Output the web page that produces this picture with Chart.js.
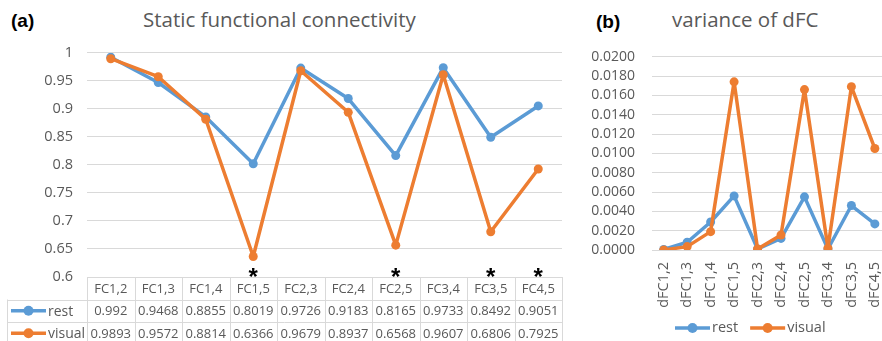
<!DOCTYPE html>
<html>
<head>
<meta charset="utf-8">
<script src="https://cdn.jsdelivr.net/npm/chart.js@4/dist/chart.umd.min.js"></script>
<style>
  html, body { margin: 0; padding: 0; width: 882px; height: 341px; overflow: hidden; background: #fff; }
  .wrap { position: absolute; }
  .tag { position: absolute; font-family: "Liberation Sans", Arial, sans-serif; font-weight: bold; font-size: 19px; color: #000; }
  .title { position: absolute; font-family: "Open Sans", sans-serif; font-size: 20.5px; color: #595959; white-space: nowrap; }
</style>
</head>
<body>
<div class="tag" style="left:11px; top:10px;">(a)</div>
<div class="title" style="left:143px; top:5px;">Static functional connectivity</div>
<div class="tag" style="left:596px; top:11px;">(b)</div>
<div class="title" style="left:672px; top:5px;">variance of dFC</div>

<div class="wrap" style="left:0; top:0; width:575px; height:341px;"><canvas id="staticFC"></canvas></div>
<div class="wrap" style="left:575px; top:0; width:330px; height:341px;"><canvas id="dfcVar"></canvas></div>

<script>
// Static functional connectivity (panel a)
const fcPairs = ['FC1,2', 'FC1,3', 'FC1,4', 'FC1,5', 'FC2,3', 'FC2,4', 'FC2,5', 'FC3,4', 'FC3,5', 'FC4,5'];
const restFC = [0.992, 0.9468, 0.8855, 0.8019, 0.9726, 0.9183, 0.8165, 0.9733, 0.8492, 0.9051];
const visualFC = [0.9893, 0.9572, 0.8814, 0.6366, 0.9679, 0.8937, 0.6568, 0.9607, 0.6806, 0.7925];
const significantPairs = ['FC1,5', 'FC2,5', 'FC3,5', 'FC4,5'];

// Variance of dynamic FC (panel b)
const dfcPairs = ['dFC1,2', 'dFC1,3', 'dFC1,4', 'dFC1,5', 'dFC2,3', 'dFC2,4', 'dFC2,5', 'dFC3,4', 'dFC3,5', 'dFC4,5'];
const restVar = [0.00005, 0.0008, 0.0029, 0.0056, 0.0001, 0.0012, 0.0055, 0.0001, 0.0046, 0.0027];
const visualVar = [0.0000, 0.00035, 0.0019, 0.0174, 0.0001, 0.00155, 0.0166, 0.0002, 0.0169, 0.0105];

const BLUE = '#5B9BD5';
const ORANGE = '#ED7D31';
const GRID = '#d9d9d9';
const TEXT = '#595959';
const FONT = '"Open Sans", sans-serif';

function series(label, data, color, order) {
  return {
    label, data, order,
    borderColor: color, backgroundColor: color,
    borderWidth: 3.5, borderJoinStyle: 'round', borderCapStyle: 'round',
    pointRadius: 4.5, pointHoverRadius: 4.5,
    pointBorderWidth: 0, pointBackgroundColor: color, tension: 0
  };
}

function drawKey(ctx, x, y, color) {
  ctx.save();
  ctx.strokeStyle = color;
  ctx.lineWidth = 3.5;
  ctx.beginPath();
  ctx.moveTo(x, y);
  ctx.lineTo(x + 35, y);
  ctx.stroke();
  ctx.fillStyle = color;
  ctx.beginPath();
  ctx.arc(x + 17.5, y, 5, 0, Math.PI * 2);
  ctx.fill();
  ctx.restore();
}

// Data table under the x axis of panel (a), with significance stars
const dataTable = {
  id: 'dataTable',
  afterDraw(chart) {
    const { ctx, chartArea, scales: { x } } = chart;
    const labels = chart.data.labels;
    const step = x.getPixelForValue(1) - x.getPixelForValue(0);
    const top = chartArea.bottom;
    const rowH = 22.5;
    const tableLeft = 7;
    const sets = chart.data.datasets.slice().sort((a, b) => b.order - a.order);

    ctx.save();
    ctx.strokeStyle = GRID;
    ctx.lineWidth = 1;
    ctx.beginPath();
    ctx.moveTo(chartArea.left, top + 0.5);
    ctx.lineTo(chartArea.right, top + 0.5);
    const rows = sets.length;
    for (let r = 1; r <= rows + 1; r++) {
      const yy = Math.round(top + r * rowH) + 0.5;
      ctx.moveTo(tableLeft, yy);
      ctx.lineTo(chartArea.right, yy);
    }
    ctx.moveTo(tableLeft + 0.5, top + rowH);
    ctx.lineTo(tableLeft + 0.5, top + (rows + 1) * rowH);
    for (let i = 0; i <= labels.length; i++) {
      const xx = Math.round(x.getPixelForValue(i) - step / 2) + 0.5;
      ctx.moveTo(xx, top);
      ctx.lineTo(xx, top + (rows + 1) * rowH);
    }
    ctx.stroke();

    ctx.fillStyle = TEXT;
    ctx.font = '13px ' + FONT;
    ctx.textAlign = 'center';
    ctx.textBaseline = 'middle';
    labels.forEach((lab, i) => {
      ctx.fillText(lab, x.getPixelForValue(i), top + rowH / 2 + 1);
    });
    sets.forEach((ds, r) => {
      const cy = top + (r + 1.5) * rowH + 1;
      ds.data.forEach((v, i) => {
        ctx.fillStyle = TEXT;
        ctx.textAlign = 'center';
        ctx.fillText(String(v), x.getPixelForValue(i), cy);
      });
      drawKey(ctx, tableLeft + 4, cy - 1, ds.borderColor);
      ctx.fillStyle = TEXT;
      ctx.textAlign = 'left';
      ctx.font = '14px ' + FONT;
      ctx.fillText(ds.label, tableLeft + 41, cy);
      ctx.font = '13px ' + FONT;
    });

    // significance markers
    ctx.fillStyle = '#000';
    ctx.font = 'bold 24px "Liberation Sans", Arial, sans-serif';
    ctx.textAlign = 'center';
    ctx.textBaseline = 'alphabetic';
    significantPairs.forEach(p => {
      const i = labels.indexOf(p);
      if (i >= 0) ctx.fillText('*', x.getPixelForValue(i), top + 8);
    });
    ctx.restore();
  }
};

// Line-and-marker legend under panel (b)
const keyLegend = {
  id: 'keyLegend',
  afterDraw(chart) {
    const { ctx } = chart;
    const sets = chart.data.datasets.slice().sort((a, b) => b.order - a.order);
    ctx.save();
    ctx.font = '14.5px ' + FONT;
    ctx.textBaseline = 'middle';
    ctx.fillStyle = TEXT;
    let xx = 100;
    const y = 328;
    sets.forEach(ds => {
      drawKey(ctx, xx, y, ds.borderColor);
      ctx.fillStyle = TEXT;
      ctx.fillText(ds.label, xx + 37, y);
      xx += 37 + ctx.measureText(ds.label).width + 12;
    });
    ctx.restore();
  }
};

new Chart(document.getElementById('staticFC'), {
  type: 'line',
  data: {
    labels: fcPairs,
    datasets: [series('rest', restFC, BLUE, 1), series('visual', visualFC, ORANGE, 0)]
  },
  options: {
    responsive: true, maintainAspectRatio: false, animation: false,
    layout: { padding: { top: 52.7, bottom: 64, left: 0, right: 13 } },
    plugins: { legend: { display: false }, tooltip: { enabled: false } },
    scales: {
      x: { display: false, offset: true },
      y: {
        min: 0.6, max: 1,
        afterFit(s) { s.width = 87; },
        border: { display: false },
        grid: { color: GRID, lineWidth: 1, drawTicks: false },
        ticks: {
          stepSize: 0.05, padding: 14, color: TEXT, autoSkip: false,
          font: { family: FONT, size: 14.5 },
          callback: v => String(parseFloat(v.toFixed(2)))
        }
      }
    }
  },
  plugins: [dataTable]
});

new Chart(document.getElementById('dfcVar'), {
  type: 'line',
  data: {
    labels: dfcPairs,
    datasets: [series('rest', restVar, BLUE, 1), series('visual', visualVar, ORANGE, 0)]
  },
  options: {
    responsive: true, maintainAspectRatio: false, animation: false,
    layout: { padding: { top: 56.7, bottom: 0, left: 0, right: 15 } },
    plugins: { legend: { display: false }, tooltip: { enabled: false } },
    scales: {
      x: {
        offset: true,
        afterFit(s) { s.height = 91; },
        border: { color: GRID },
        grid: { display: false, drawTicks: false },
        ticks: {
          minRotation: 90, maxRotation: 90, padding: 12, color: TEXT, autoSkip: false,
          font: { family: FONT, size: 14.5 }
        }
      },
      y: {
        min: 0, max: 0.02,
        afterFit(s) { s.width = 77; },
        border: { display: false },
        grid: { color: GRID, lineWidth: 1, drawTicks: false },
        ticks: {
          stepSize: 0.002, padding: 17, color: TEXT, autoSkip: false,
          font: { family: FONT, size: 14 },
          callback: v => v.toFixed(4)
        }
      }
    }
  },
  plugins: [keyLegend]
});
</script>
</body>
</html>
